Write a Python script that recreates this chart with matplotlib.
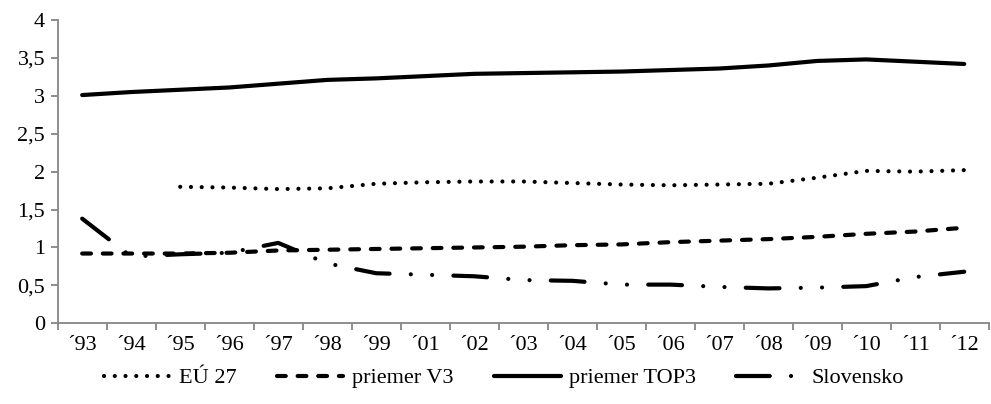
import numpy as np
import matplotlib
matplotlib.use('Agg')
import matplotlib.pyplot as plt

plt.rcParams['font.family'] = ['Liberation Serif', 'DejaVu Serif']

# roky na osi x (bez roku 2000)
years = ['\u00b493', '\u00b494', '\u00b495', '\u00b496', '\u00b497', '\u00b498', '\u00b499',
         '\u00b401', '\u00b402', '\u00b403', '\u00b404', '\u00b405', '\u00b406', '\u00b407',
         '\u00b408', '\u00b409', '\u00b410', '\u00b411', '\u00b412']

eu27 = [np.nan, np.nan, 1.80, 1.79, 1.77, 1.78, 1.84, 1.86, 1.87, 1.87,
        1.85, 1.83, 1.82, 1.83, 1.84, 1.92, 2.01, 2.00, 2.02]
v3 = [0.92, 0.92, 0.92, 0.93, 0.96, 0.97, 0.98, 0.99, 1.00, 1.01,
      1.03, 1.04, 1.07, 1.09, 1.11, 1.14, 1.18, 1.21, 1.26]
top3 = [3.01, 3.05, 3.08, 3.11, 3.16, 3.21, 3.23, 3.26, 3.29, 3.30,
        3.31, 3.32, 3.34, 3.36, 3.40, 3.46, 3.48, 3.45, 3.42]
slovensko = [1.38, 0.88, 0.91, 0.93, 1.06, 0.79, 0.66, 0.64, 0.62, 0.57,
             0.56, 0.51, 0.51, 0.48, 0.46, 0.47, 0.49, 0.61, 0.68]

x = np.arange(len(years))
lw = 3.0

fig = plt.figure(figsize=(9.91, 4.04), dpi=100)
ax = fig.add_axes([0.0582, 0.1998, 0.9395, 0.7507])

ax.plot(x, eu27, color='black', lw=lw, linestyle=(0, (0.01, 2.57)),
        dash_capstyle='round', label='EÚ 27')
ax.plot(x, v3, color='black', lw=lw, linestyle=(0, (2.1, 2.85)),
        dash_capstyle='round', label='priemer V3')
ax.plot(x, top3, color='black', lw=lw, solid_capstyle='round',
        solid_joinstyle='round', label='priemer TOP3')
ax.plot(x, slovensko, color='black', lw=lw,
        linestyle=(0, (8.1, 5.1, 0.01, 5.1, 0.01, 5.1)),
        dash_capstyle='round', label='Slovensko')

ax.set_xlim(-0.5, len(years) - 0.5)
ax.set_ylim(0, 4)
ax.set_yticks(np.arange(0, 4.01, 0.5))
ax.set_yticklabels(['0', '0,5', '1', '1,5', '2', '2,5', '3', '3,5', '4'])
ax.set_xticks(x)
ax.set_xticklabels(years)
ax.set_xticks(np.arange(-0.5, len(years)), minor=True)

axis_color = '#868686'
for side in ['top', 'right']:
    ax.spines[side].set_visible(False)
for side in ['left', 'bottom']:
    ax.spines[side].set_color(axis_color)
    ax.spines[side].set_linewidth(1.3)

ax.tick_params(axis='x', which='major', length=0, pad=9, labelsize=16)
ax.tick_params(axis='x', which='minor', length=5, width=1.3, color=axis_color)
ax.tick_params(axis='y', length=5, width=1.3, color=axis_color, pad=4, labelsize=16)

fig.legend(loc='center', bbox_to_anchor=(504 / 991, 1 - 378 / 404), ncol=4,
           frameon=False, fontsize=16, handlelength=3.0, handletextpad=0.4,
           columnspacing=1.8)

fig.savefig('out.png', dpi=100)
